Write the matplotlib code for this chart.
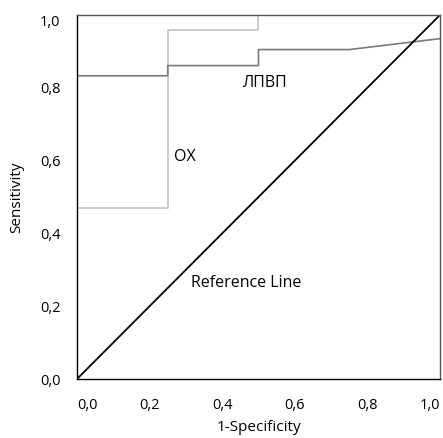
import matplotlib
matplotlib.use("Agg")
import matplotlib.pyplot as plt
from matplotlib.ticker import FuncFormatter

# ROC data
ox_fpr = [0.0, 0.25, 0.25, 0.5, 0.5]
ox_tpr = [0.47, 0.47, 0.96, 0.96, 1.0]

lpvp_fpr = [0.0, 0.25, 0.25, 0.5, 0.5, 0.75, 1.0]
lpvp_tpr = [0.833, 0.833, 0.861, 0.861, 0.905, 0.905, 0.935]

ref_x = [0.0, 1.0]
ref_y = [0.0, 1.0]

ticks = [0.0, 0.2, 0.4, 0.6, 0.8, 1.0]

plt.rcParams["font.family"] = ["Open Sans", "DejaVu Sans"]
plt.rcParams["font.size"] = 10.5

fig = plt.figure(figsize=(4.43, 4.38), dpi=100)
ax = fig.add_axes([0.1738, 0.1347, 0.8194, 0.8311])

ax.plot(ox_fpr, ox_tpr, color="#c4c4c4", linewidth=1.2)
ax.plot(lpvp_fpr, lpvp_tpr, color="#7a7a7a", linewidth=1.2)
ax.plot(ref_x, ref_y, color="black", linewidth=1.3)

ax.text(0.267, 0.61, "ОХ", fontsize=11.5, va="center")
ax.text(0.457, 0.813, "ЛПВП", fontsize=11.5, va="center")
ax.text(0.314, 0.264, "Reference Line", fontsize=11.5, va="center")

ax.set_xlim(0, 1)
ax.set_ylim(0, 1)
ax.set_xticks(ticks)
ax.set_yticks(ticks)
fmt = FuncFormatter(lambda v, p: f"{v:.1f}".replace(".", ","))
ax.xaxis.set_major_formatter(fmt)
ax.yaxis.set_major_formatter(fmt)
ax.tick_params(axis="x", length=0, pad=14)
ax.tick_params(axis="y", length=0, pad=12)

# keep end labels inside the figure, like the original
xl = ax.get_xticklabels()
xl[0].set_ha("left")
xl[-1].set_ha("right")
yl = ax.get_yticklabels()
yl[-1].set_va("top")

ax.spines["left"].set_color("black")
ax.spines["bottom"].set_color("black")
ax.spines["top"].set_color("#555555")
ax.spines["right"].set_color("#555555")
for s in ax.spines.values():
    s.set_linewidth(1.0)

ax.set_xlabel("1-Specificity", fontsize=11, labelpad=5)
ax.set_ylabel("Sensitivity", fontsize=11, labelpad=11)

fig.savefig("out.png", dpi=100)
